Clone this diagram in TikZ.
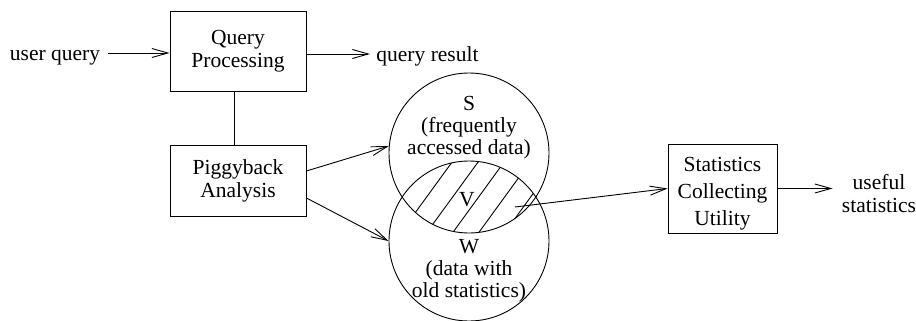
\documentclass[tikz,border=0pt]{standalone}
\usepackage{fontspec}
\setmainfont{Liberation Serif}
\usetikzlibrary{arrows.meta}
\begin{document}
\begin{tikzpicture}[x=1pt,y=-1pt, line width=0.9pt,
  every node/.style={font=\fontsize{21.5}{23}\selectfont},
  box/.style={draw, rectangle, align=center, inner sep=0pt},
  txt/.style={inner sep=0pt, align=center},
  ctxt/.style={inner sep=0pt, align=center, font=\fontsize{21.5}{22}\selectfont},
  arr/.style={-{Straight Barb[length=16pt,width=9pt]}},
  setc/.style={draw, circle, minimum size=160pt, inner sep=0pt}]
\useasboundingbox (0,0) rectangle (916,321);
% boxes
\node[box, minimum width=136pt, minimum height=80pt] (qp) at (238,51) {Query\\Processing};
\node[box, minimum width=136pt, minimum height=71pt] (pa) at (238,180.5) {Piggyback\\Analysis};
\node[box, minimum width=109pt, minimum height=89pt] (sc) at (722.5,188.5) {};
\node[txt, font=\fontsize{21.5}{27}\selectfont] (sct) at (722.5,193.5) {Statistics\\Collecting\\Utility};
% sets
\node[setc] (S) at (469,153) {};
\node[setc] (W) at (469,241) {};
\begin{scope}
  \clip (469,153) circle[radius=80pt];
  \clip (469,241) circle[radius=80pt];
  \foreach \x in {389,415,441,467,493,519,545}
    \draw (\x-41.2,213+56.6) -- (\x+41.2,213-56.6);
\end{scope}
\node[ctxt, anchor=north] (Sl) at (469,95.8) {S\\(frequently\\accessed data)};
\node[ctxt, anchor=north] (Wl) at (469,238.8) {W\\(data with\\old statistics)};
\node[txt] (V) at (467,200) {V};
\coordinate (vs) at (515,207);
% free texts
\node[txt, anchor=base] (uq) at (55,60) {user query};
\node[txt, anchor=base west] (qr) at (376,62) {query result};
\node[txt] (us) at (879,194) {useful\\statistics};
% connectors
\coordinate (qin) at ([yshift=-2pt]qp.west);
\coordinate (qout) at ([yshift=-3pt]qp.east);
\draw[arr, shorten <=7pt] (uq.east |- qin) -- (qin);
\draw[arr, shorten >=6pt] (qout) -- (qout -| qr.west);
\draw ([xshift=-4pt]qp.south) -- ([xshift=-4pt]pa.north);
\draw[arr] ([yshift=9.5pt]pa.east) -- (S.175);
\draw[arr] ([yshift=-17.5pt]pa.east) -- (W.180);
\draw[arr] (vs) -- (sc.west);
\draw[arr, shorten >=9pt] (sc.east) -- (sc.east -| us.west);
\end{tikzpicture}
\end{document}
